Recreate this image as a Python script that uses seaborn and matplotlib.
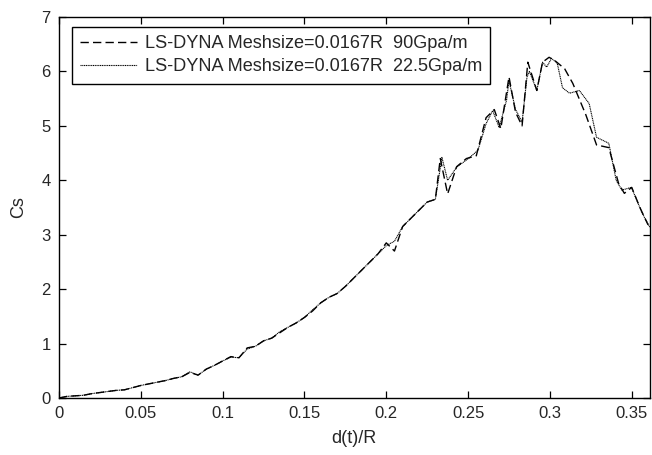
import numpy as np
import pandas as pd
import matplotlib
matplotlib.use("Agg")
import matplotlib.pyplot as plt
import seaborn as sns

# ---- data ----
x_base = [0.0, 0.005, 0.01, 0.015, 0.02, 0.025, 0.03, 0.035, 0.04, 0.045,
          0.05, 0.055, 0.06, 0.065, 0.07, 0.075, 0.08, 0.085, 0.09, 0.095,
          0.1, 0.105, 0.11, 0.115, 0.12, 0.125, 0.13, 0.135, 0.14, 0.145,
          0.15, 0.155, 0.16, 0.165, 0.17, 0.175, 0.18, 0.185, 0.19, 0.195,
          0.2, 0.205, 0.21, 0.215, 0.22, 0.225, 0.23]
cs_base_90 = [0.0, 0.03, 0.04, 0.05, 0.08, 0.10, 0.12, 0.14, 0.15, 0.19,
              0.23, 0.26, 0.29, 0.32, 0.36, 0.39, 0.47, 0.42, 0.53, 0.60,
              0.68, 0.76, 0.74, 0.92, 0.95, 1.05, 1.10, 1.20, 1.30, 1.38,
              1.48, 1.60, 1.75, 1.85, 1.92, 2.05, 2.20, 2.35, 2.50, 2.65,
              2.85, 2.70, 3.15, 3.30, 3.45, 3.60, 3.65]
cs_base_22 = [0.0, 0.03, 0.04, 0.05, 0.08, 0.10, 0.12, 0.14, 0.15, 0.19,
              0.23, 0.26, 0.29, 0.32, 0.36, 0.39, 0.48, 0.42, 0.53, 0.60,
              0.68, 0.75, 0.74, 0.90, 0.95, 1.05, 1.10, 1.22, 1.30, 1.38,
              1.48, 1.62, 1.75, 1.85, 1.92, 2.05, 2.20, 2.35, 2.50, 2.65,
              2.80, 2.88, 3.15, 3.30, 3.45, 3.60, 3.65]

x_tail_90 = [0.233, 0.2375, 0.243, 0.249, 0.255, 0.261, 0.266, 0.27, 0.275,
             0.279, 0.283, 0.2865, 0.292, 0.2955, 0.2995, 0.303, 0.309,
             0.314, 0.322, 0.3285, 0.336, 0.342, 0.3455, 0.35, 0.355, 0.36]
cs_tail_90 = [4.40, 3.75, 4.25, 4.40, 4.45, 5.15, 5.30, 4.95, 5.90,
              5.25, 5.00, 6.17, 5.65, 6.17, 6.26, 6.20, 6.05,
              5.78, 5.20, 4.65, 4.60, 3.94, 3.76, 3.87, 3.50, 3.18]

x_tail_22 = [0.234, 0.2375, 0.243, 0.251, 0.256, 0.261, 0.265, 0.269,
             0.2735, 0.275, 0.279, 0.283, 0.286, 0.2875, 0.292, 0.2955,
             0.298, 0.301, 0.3045, 0.3077, 0.312, 0.318, 0.324, 0.3285,
             0.336, 0.3405, 0.344, 0.3498, 0.3565, 0.361]
cs_tail_22 = [4.42, 4.00, 4.24, 4.42, 4.55, 5.04, 5.28, 4.97,
              5.47, 5.83, 5.30, 5.07, 5.90, 6.00, 5.65, 6.17,
              6.08, 6.24, 6.15, 5.70, 5.60, 5.65, 5.41, 4.79,
              4.68, 4.00, 3.82, 3.87, 3.39, 3.14]

labels = ["LS-DYNA Meshsize=0.0167R  90Gpa/m",
          "LS-DYNA Meshsize=0.0167R  22.5Gpa/m"]
x_ticks = [0, 0.05, 0.1, 0.15, 0.2, 0.25, 0.3, 0.35]
x_tick_labels = ["0", "0.05", "0.1", "0.15", "0.2", "0.25", "0.3", "0.35"]
y_ticks = [0, 1, 2, 3, 4, 5, 6, 7]

df = pd.concat([
    pd.DataFrame({"x": x_base + x_tail_90, "cs": cs_base_90 + cs_tail_90, "series": labels[0]}),
    pd.DataFrame({"x": x_base + x_tail_22, "cs": cs_base_22 + cs_tail_22, "series": labels[1]}),
], ignore_index=True)

sns.set_style("ticks")
plt.rcParams["font.family"] = ["Liberation Sans", "DejaVu Sans"]
plt.rcParams["xtick.direction"] = "in"
plt.rcParams["ytick.direction"] = "in"

fig = plt.figure(figsize=(6.52, 4.55), dpi=100)
ax = fig.add_axes([0.0905, 0.1253, 0.906, 0.8373])

sns.lineplot(data=df[df.series == labels[0]], x="x", y="cs", ax=ax,
             color="black", lw=1.0, linestyle=(0, (6, 3)), label=labels[0],
             sort=False, estimator=None)
sns.lineplot(data=df[df.series == labels[1]], x="x", y="cs", ax=ax,
             color="black", lw=0.8, linestyle=(0, (1, 0.6)), label=labels[1],
             sort=False, estimator=None)

ax.set_xlim(0, 0.361)
ax.set_ylim(0, 7)
ax.set_xticks(x_ticks)
ax.set_xticklabels(x_tick_labels)
ax.set_yticks(y_ticks)
ax.tick_params(axis="both", labelsize=12, length=5, width=0.9, color="black",
               top=True, right=True, pad=6)
for s in ax.spines.values():
    s.set_visible(True)
    s.set_color("black")
    s.set_linewidth(1.0)
ax.set_xlabel("d(t)/R", fontsize=13, labelpad=6)
ax.set_ylabel("Cs", fontsize=13, labelpad=10)

leg = ax.legend(loc="upper left", bbox_to_anchor=(0.022, 0.974), fontsize=13.1,
                frameon=True, fancybox=False, edgecolor="black", framealpha=1,
                borderaxespad=0, handlelength=3.1, handletextpad=0.45,
                borderpad=0.45, labelspacing=0.35)
leg.get_frame().set_linewidth(1.0)

fig.savefig("out.png", dpi=100)
